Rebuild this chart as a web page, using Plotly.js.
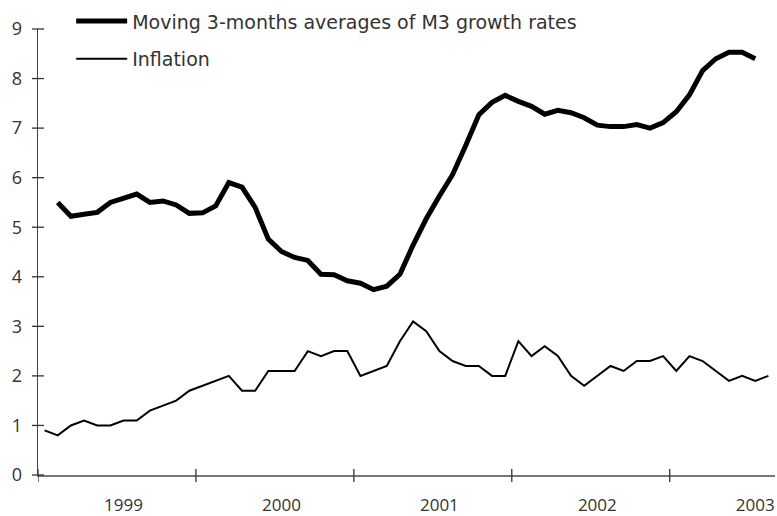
<!DOCTYPE html>
<html>
<head>
<meta charset="utf-8">
<script src="https://cdn.plot.ly/plotly-3.0.1.min.js"></script>
<style>html,body{margin:0;padding:0;background:#fff;}#chart{width:777px;height:516px;}</style>
</head>
<body>
<div id="chart"></div>
<script>
// Monthly index: 0 = Jan 1999 ... 55 = Aug 2003
var months = [];
for (var i = 0; i < 56; i++) months.push(i);

var yearLabels = ["1999", "2000", "2001", "2002", "2003"];
var yearLabelPos = [6, 18, 30, 42, 54];
var yearBoundaries = [-0.5, 11.5, 23.5, 35.5, 47.5];
var yTicks = [0, 1, 2, 3, 4, 5, 6, 7, 8, 9];

// M3 3-month moving average: Feb 1999 .. Jul 2003
var m3Months = months.slice(1, 55);
var m3Values = [5.50, 5.22, 5.26, 5.30, 5.50, 5.58, 5.67, 5.50, 5.53, 5.45,
                5.28, 5.29, 5.43, 5.90, 5.81, 5.40, 4.76, 4.51, 4.39, 4.33,
                4.05, 4.04, 3.92, 3.87, 3.74, 3.81, 4.05, 4.64, 5.17, 5.63,
                6.06, 6.65, 7.27, 7.52, 7.66, 7.54, 7.44, 7.28, 7.36, 7.31,
                7.21, 7.06, 7.03, 7.03, 7.07, 7.00, 7.11, 7.33, 7.67, 8.16,
                8.40, 8.53, 8.53, 8.40];

// Inflation: Jan 1999 .. Aug 2003
var inflation = [0.9, 0.8, 1.0, 1.1, 1.0, 1.0, 1.1, 1.1, 1.3, 1.4, 1.5, 1.7,
                 1.8, 1.9, 2.0, 1.7, 1.7, 2.1, 2.1, 2.1, 2.5, 2.4, 2.5, 2.5,
                 2.0, 2.1, 2.2, 2.7, 3.1, 2.9, 2.5, 2.3, 2.2, 2.2, 2.0, 2.0,
                 2.7, 2.4, 2.6, 2.4, 2.0, 1.8, 2.0, 2.2, 2.1, 2.3, 2.3, 2.4,
                 2.1, 2.4, 2.3, 2.1, 1.9, 2.0, 1.9, 2.0];

var yRange = [0, 9];

var traces = [
  {x: m3Months, y: m3Values, type: "scatter", mode: "lines",
   name: "Moving 3-months averages of M3 growth rates",
   line: {color: "#000", width: 5}, legendgroup: "a"},
  {x: months, y: inflation, type: "scatter", mode: "lines",
   name: "Inflation", line: {color: "#000", width: 2}, legendgroup: "b"}
];

var shapes = [];
// crossing tick marks on the x axis at year boundaries
yearBoundaries.forEach(function (b) {
  shapes.push({type: "line", xref: "x", yref: "paper", ysizemode: "pixel", yanchor: 0,
    x0: b, x1: b, y0: -7, y1: 6, line: {color: "#333", width: 1.3}});
});
// crossing tick marks on the y axis
yTicks.forEach(function (t) {
  var f = (t - yRange[0]) / (yRange[1] - yRange[0]);
  shapes.push({type: "line", xref: "paper", yref: "paper", xsizemode: "pixel", xanchor: 0,
    x0: -6, x1: 6, y0: f, y1: f, line: {color: "#333", width: 1.3}});
});

var layout = {
  width: 777, height: 516,
  margin: {l: 38, r: 2, t: 20, b: 41},
  paper_bgcolor: "#fff", plot_bgcolor: "#fff",
  font: {family: "Open Sans, sans-serif", size: 18, color: "#333"},
  showlegend: true,
  legend: {x: 0.045, y: 1.06, xanchor: "left", yanchor: "top",
    bgcolor: "rgba(0,0,0,0)", tracegroupgap: 10, traceorder: "grouped",
    itemwidth: 51,
    font: {family: "DejaVu Sans, sans-serif", size: 19, color: "#333"}},
  xaxis: {range: [-0.5, 55.5], tickvals: yearLabelPos, ticktext: yearLabels,
    ticks: "", showgrid: false, zeroline: false, showline: true,
    linecolor: "#777", linewidth: 1.5, ticklabelstandoff: 14,
    tickfont: {family: "Open Sans, sans-serif", size: 17, color: "#333"}},
  yaxis: {range: yRange, tickvals: yTicks, ticks: "", showgrid: false, zeroline: false,
    showline: true, linecolor: "#444", linewidth: 1.3, ticklabelstandoff: 11,
    tickfont: {family: "Open Sans, sans-serif", size: 18, color: "#333"}},
  shapes: shapes
};

Plotly.newPlot("chart", traces, layout, {displayModeBar: false, staticPlot: true});
</script>
</body>
</html>
